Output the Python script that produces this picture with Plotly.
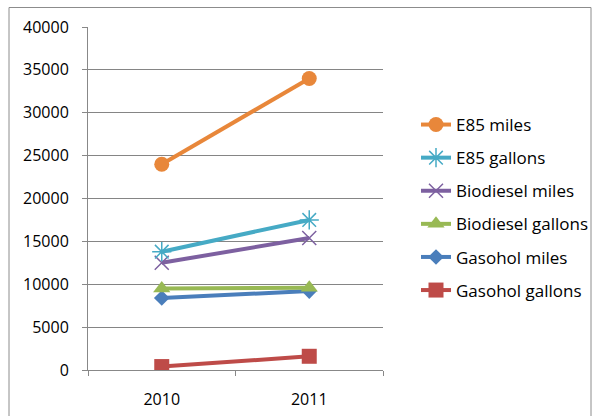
import plotly.graph_objects as go

years = ["2010", "2011"]
series_names = ["Gasohol gallons", "Gasohol miles", "Biodiesel gallons",
                "Biodiesel miles", "E85 gallons", "E85 miles"]
gasohol_gallons = [400, 1600]
gasohol_miles = [8400, 9200]
biodiesel_gallons = [9500, 9600]
biodiesel_miles = [12500, 15400]
e85_gallons = [13800, 17500]
e85_miles = [24000, 34000]
y_ticks = [0, 5000, 10000, 15000, 20000, 25000, 30000, 35000, 40000]

values = [gasohol_gallons, gasohol_miles, biodiesel_gallons,
          biodiesel_miles, e85_gallons, e85_miles]
colors = ["#BE4B48", "#4A7EBB", "#98B954", "#7D60A0", "#46AAC5", "#E8873A"]
symbols = ["square", "diamond", "triangle-up", "x-thin-open", "asterisk-open", "circle"]
msizes = [15, 12, 15, 14, 16, 15]

fig = go.Figure()
for i, (name, vals) in enumerate(zip(series_names, values)):
    mk = dict(symbol=symbols[i], size=msizes[i], color=colors[i])
    if symbols[i].endswith("open"):
        mk["line"] = dict(color=colors[i], width=1.5)
    fig.add_trace(go.Scatter(
        x=years, y=vals, name=name, mode="lines+markers",
        line=dict(color=colors[i], width=4), marker=mk,
        legendgroup=name, legendrank=100 - i,
    ))

# body margin removed via post_script, so screen coords == figure coords
W, H = 594, 416
L, R, T, B = 88, 383, 27, 370
def px(x):
    return (x - L) / (R - L)
def py(y):
    return (B - y) / (B - T)

fig.update_layout(
    width=W, height=H,
    margin=dict(l=L, r=W - R, t=T, b=H - B, autoexpand=False),
    paper_bgcolor="white", plot_bgcolor="white",
    font=dict(family="Open Sans, Liberation Sans, sans-serif", size=16, color="#000000"),
    showlegend=True,
    legend=dict(x=px(416), y=py(107), xanchor="left", yanchor="top",
                traceorder="grouped", tracegroupgap=8,
                font=dict(size=17), bgcolor="rgba(0,0,0,0)"),
    xaxis=dict(type="category", range=[-0.5, 1.5], showgrid=False,
               showline=True, linecolor="#888888", linewidth=1,
               ticks="outside", tickson="boundaries", ticklen=5, tickcolor="#888888",
               ticklabelstandoff=15, fixedrange=True),
    yaxis=dict(range=[0, 40000], tickvals=y_ticks, tickformat="d", showgrid=True,
               gridcolor="#858585", gridwidth=1, zeroline=False,
               showline=True, linecolor="#888888", linewidth=1,
               ticks="outside", ticklen=5, tickcolor="#888888",
               ticklabelstandoff=10, fixedrange=True),
    shapes=[dict(type="rect", xref="paper", yref="paper",
                 x0=px(9), x1=px(591), y0=py(430), y1=py(7.5),
                 line=dict(color="#8C8C8C", width=1), layer="below")],
)

fig.write_html("out.html", config={"displayModeBar": False},
               post_script="document.body.style.margin='0px';")
